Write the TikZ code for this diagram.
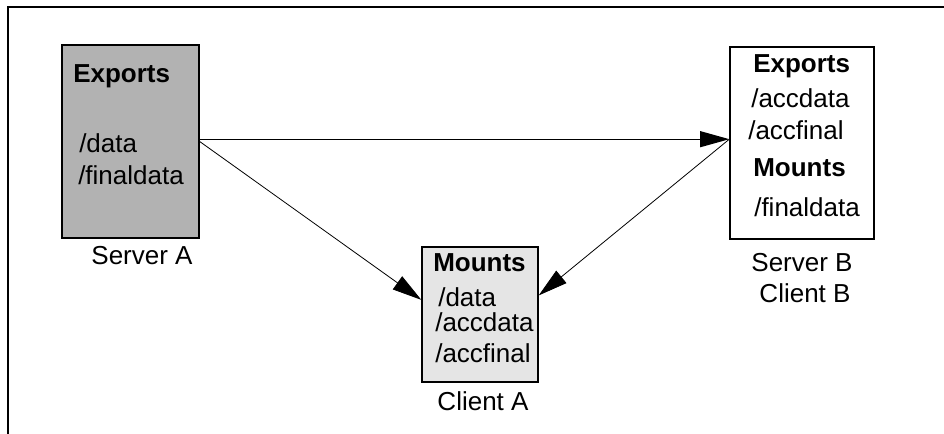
\documentclass[tikz,border=0pt]{standalone}
\usepackage{fontspec}
\setmainfont{Liberation Sans}
\usetikzlibrary{arrows.meta}
\definecolor{srvgray}{gray}{0.70}
\definecolor{cligray}{gray}{0.90}
\begin{document}
\begin{tikzpicture}[x=0.75pt,y=-0.75pt,>={Triangle[length=22pt,width=12pt]},
        box/.style={draw, rectangle, line width=1pt, inner sep=0pt},
        txt/.style={anchor=base west, inner sep=0pt, font=\fontsize{19.5}{23}\selectfont},
        lbl/.style={anchor=base, inner sep=0pt, font=\fontsize{19.5}{23}\selectfont}]
        \useasboundingbox (0,0) rectangle (944,434);
        \draw[line width=1pt] (944,7) -- (8,7) -- (8,434);

        % the three machines
        \node (serverA) [box, fill=srvgray, minimum width=102.75pt, minimum height=144.75pt] at (130.5,141.5) {};
        \node (clientA) [box, fill=cligray, minimum width=87pt, minimum height=101.25pt] at (480,314.5) {};
        \node (serverB) [box, fill=white, minimum width=108pt, minimum height=144pt] at (802,143) {};

        % Server A
        \node (expA) [txt] at (73,83) {\bfseries Exports};
        \node (dataA) [txt] at (79,153) {/data};
        \node (finalA) [txt] at (78,185) {/finaldata};
        \node (nameA) [lbl] at (142,264) {Server A};

        % Client A
        \node (mntA) [txt] at (433,272) {\bfseries Mounts};
        \node (mdataA) [txt] at (438,306) {/data};
        \node (maccA) [txt] at (435,331) {/accdata};
        \node (mfinA) [txt] at (435,362) {/accfinal};
        \node (nameCA) [lbl] at (483,410) {Client A};

        % Server B / Client B
        \node (expB) [txt] at (753,73) {\bfseries Exports};
        \node (accB) [txt] at (751,108) {/accdata};
        \node (finB) [txt] at (748,140) {/accfinal};
        \node (mntB) [txt] at (753,177) {\bfseries Mounts};
        \node (mfinB) [txt] at (754,217) {/finaldata};
        \node (nameB) [lbl] at (802,272) {Server B};
        \node (nameCB) [lbl] at (805,302) {Client B};

        \draw[->, line width=1pt] (serverA.east |- serverB.177) -- (serverB.177);
        \draw[->, line width=0.6pt] (serverA.east) -- (clientA.166);
        \draw[->, line width=0.6pt] (serverB.177) -- (clientA.18);
\end{tikzpicture}
\end{document}
